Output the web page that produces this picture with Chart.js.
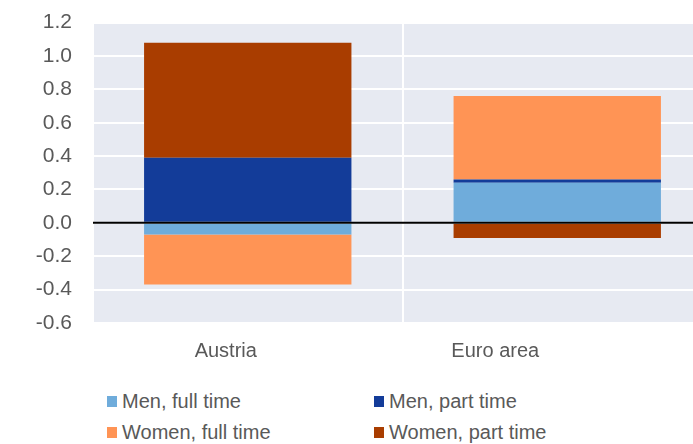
<!DOCTYPE html>
<html>
<head>
<meta charset="utf-8">
<script src="https://cdn.jsdelivr.net/npm/chart.js@4.4.1/dist/chart.umd.min.js"></script>
<style>
  body { margin: 0; background: #fff; font-family: "Liberation Sans", Arial, sans-serif; }
  #wrap { position: relative; width: 693px; height: 444px; overflow: hidden; }
  #chart { position: absolute; left: 0; top: -11px; }
  #legend { position: absolute; left: 107px; top: 388px; display: grid;
            grid-template-columns: 267px 280px; row-gap: 5px; }
  .item { display: flex; align-items: center; font-size: 20px; color: #595959; line-height: 26px; }
  .box { width: 10px; height: 11px; margin-right: 5px; }
</style>
</head>
<body>
<div id="wrap">
  <canvas id="chart" width="712" height="385"></canvas>
  <div id="legend"></div>
</div>
<script>
// categories and series values (percentage points)
const categories = ["Austria", "Euro area"];
const seriesNames = ["Men, full time", "Men, part time", "Women, full time", "Women, part time"];
const menFullTime = [-0.07, 0.24];
const menPartTime = [0.39, 0.02];
const womenFullTime = [-0.30, 0.50];
const womenPartTime = [0.69, -0.09];
const colors = ["#6FACDB", "#133C99", "#FF9455", "#A93D00"];
const yTicks = [-0.6, -0.4, -0.2, 0.0, 0.2, 0.4, 0.6, 0.8, 1.0, 1.2];

const seriesValues = [menFullTime, menPartTime, womenFullTime, womenPartTime];

// grey plot background
const plotBackground = {
  id: "plotBackground",
  beforeDraw(chart) {
    const { ctx, chartArea: a } = chart;
    ctx.save();
    ctx.fillStyle = "#E7EAF2";
    ctx.fillRect(a.left, a.top, a.right - a.left, a.bottom - a.top);
    ctx.restore();
  }
};

// black zero line drawn over the bars
const zeroLine = {
  id: "zeroLine",
  afterDatasetsDraw(chart) {
    const { ctx, chartArea: a, scales } = chart;
    const y = scales.y.getPixelForValue(0);
    ctx.save();
    ctx.strokeStyle = "#000";
    ctx.lineWidth = 2;
    ctx.beginPath();
    ctx.moveTo(a.left, y);
    ctx.lineTo(a.right, y);
    ctx.stroke();
    ctx.restore();
  }
};

// category names under the axis, each nudged by its own offset
const categoryLabels = {
  id: "categoryLabels",
  afterDraw(chart, args, opts) {
    const { ctx, chartArea: a, scales } = chart;
    ctx.save();
    ctx.fillStyle = "#595959";
    ctx.font = "20px 'Liberation Sans'";
    ctx.textAlign = "center";
    ctx.textBaseline = "middle";
    categories.forEach((name, i) => {
      ctx.fillText(name, scales.x.getPixelForValue(i) + opts.shift[i], a.bottom + 28);
    });
    ctx.restore();
  }
};

const chart = new Chart(document.getElementById("chart"), {
  type: "bar",
  data: {
    labels: categories,
    datasets: seriesNames.map((name, i) => ({
      label: name,
      data: seriesValues[i],
      backgroundColor: colors[i],
      borderWidth: 0,
      categoryPercentage: 1,
      barPercentage: 0.67
    }))
  },
  options: {
    responsive: false,
    animation: false,
    layout: { padding: 0 },
    plugins: {
      legend: { display: false },
      tooltip: { enabled: false },
      categoryLabels: { shift: [-22, -62] }
    },
    scales: {
      x: {
        stacked: true,
        grid: { color: "#FFFFFF", lineWidth: 2, offset: true, drawTicks: false },
        border: { display: false },
        ticks: { display: false },
        afterFit(s) { s.height = 51; }
      },
      y: {
        stacked: true,
        min: -0.6,
        max: 1.2,
        afterBuildTicks(s) { s.ticks = yTicks.map(v => ({ value: v })); },
        grid: { color: "#FFFFFF", lineWidth: 2, drawTicks: false },
        border: { display: false },
        ticks: {
          color: "#595959",
          font: { family: "Liberation Sans", size: 21 },
          padding: 21,
          callback: v => v.toFixed(1)
        },
        afterFit(s) { s.width = 93; }
      }
    }
  },
  plugins: [plotBackground, zeroLine, categoryLabels]
});

// two-column legend below the plot
const legend = document.getElementById("legend");
seriesNames.forEach((name, i) => {
  const item = document.createElement("div");
  item.className = "item";
  item.innerHTML = `<span class="box" style="background:${colors[i]}"></span>${name}`;
  legend.appendChild(item);
});
</script>
</body>
</html>
